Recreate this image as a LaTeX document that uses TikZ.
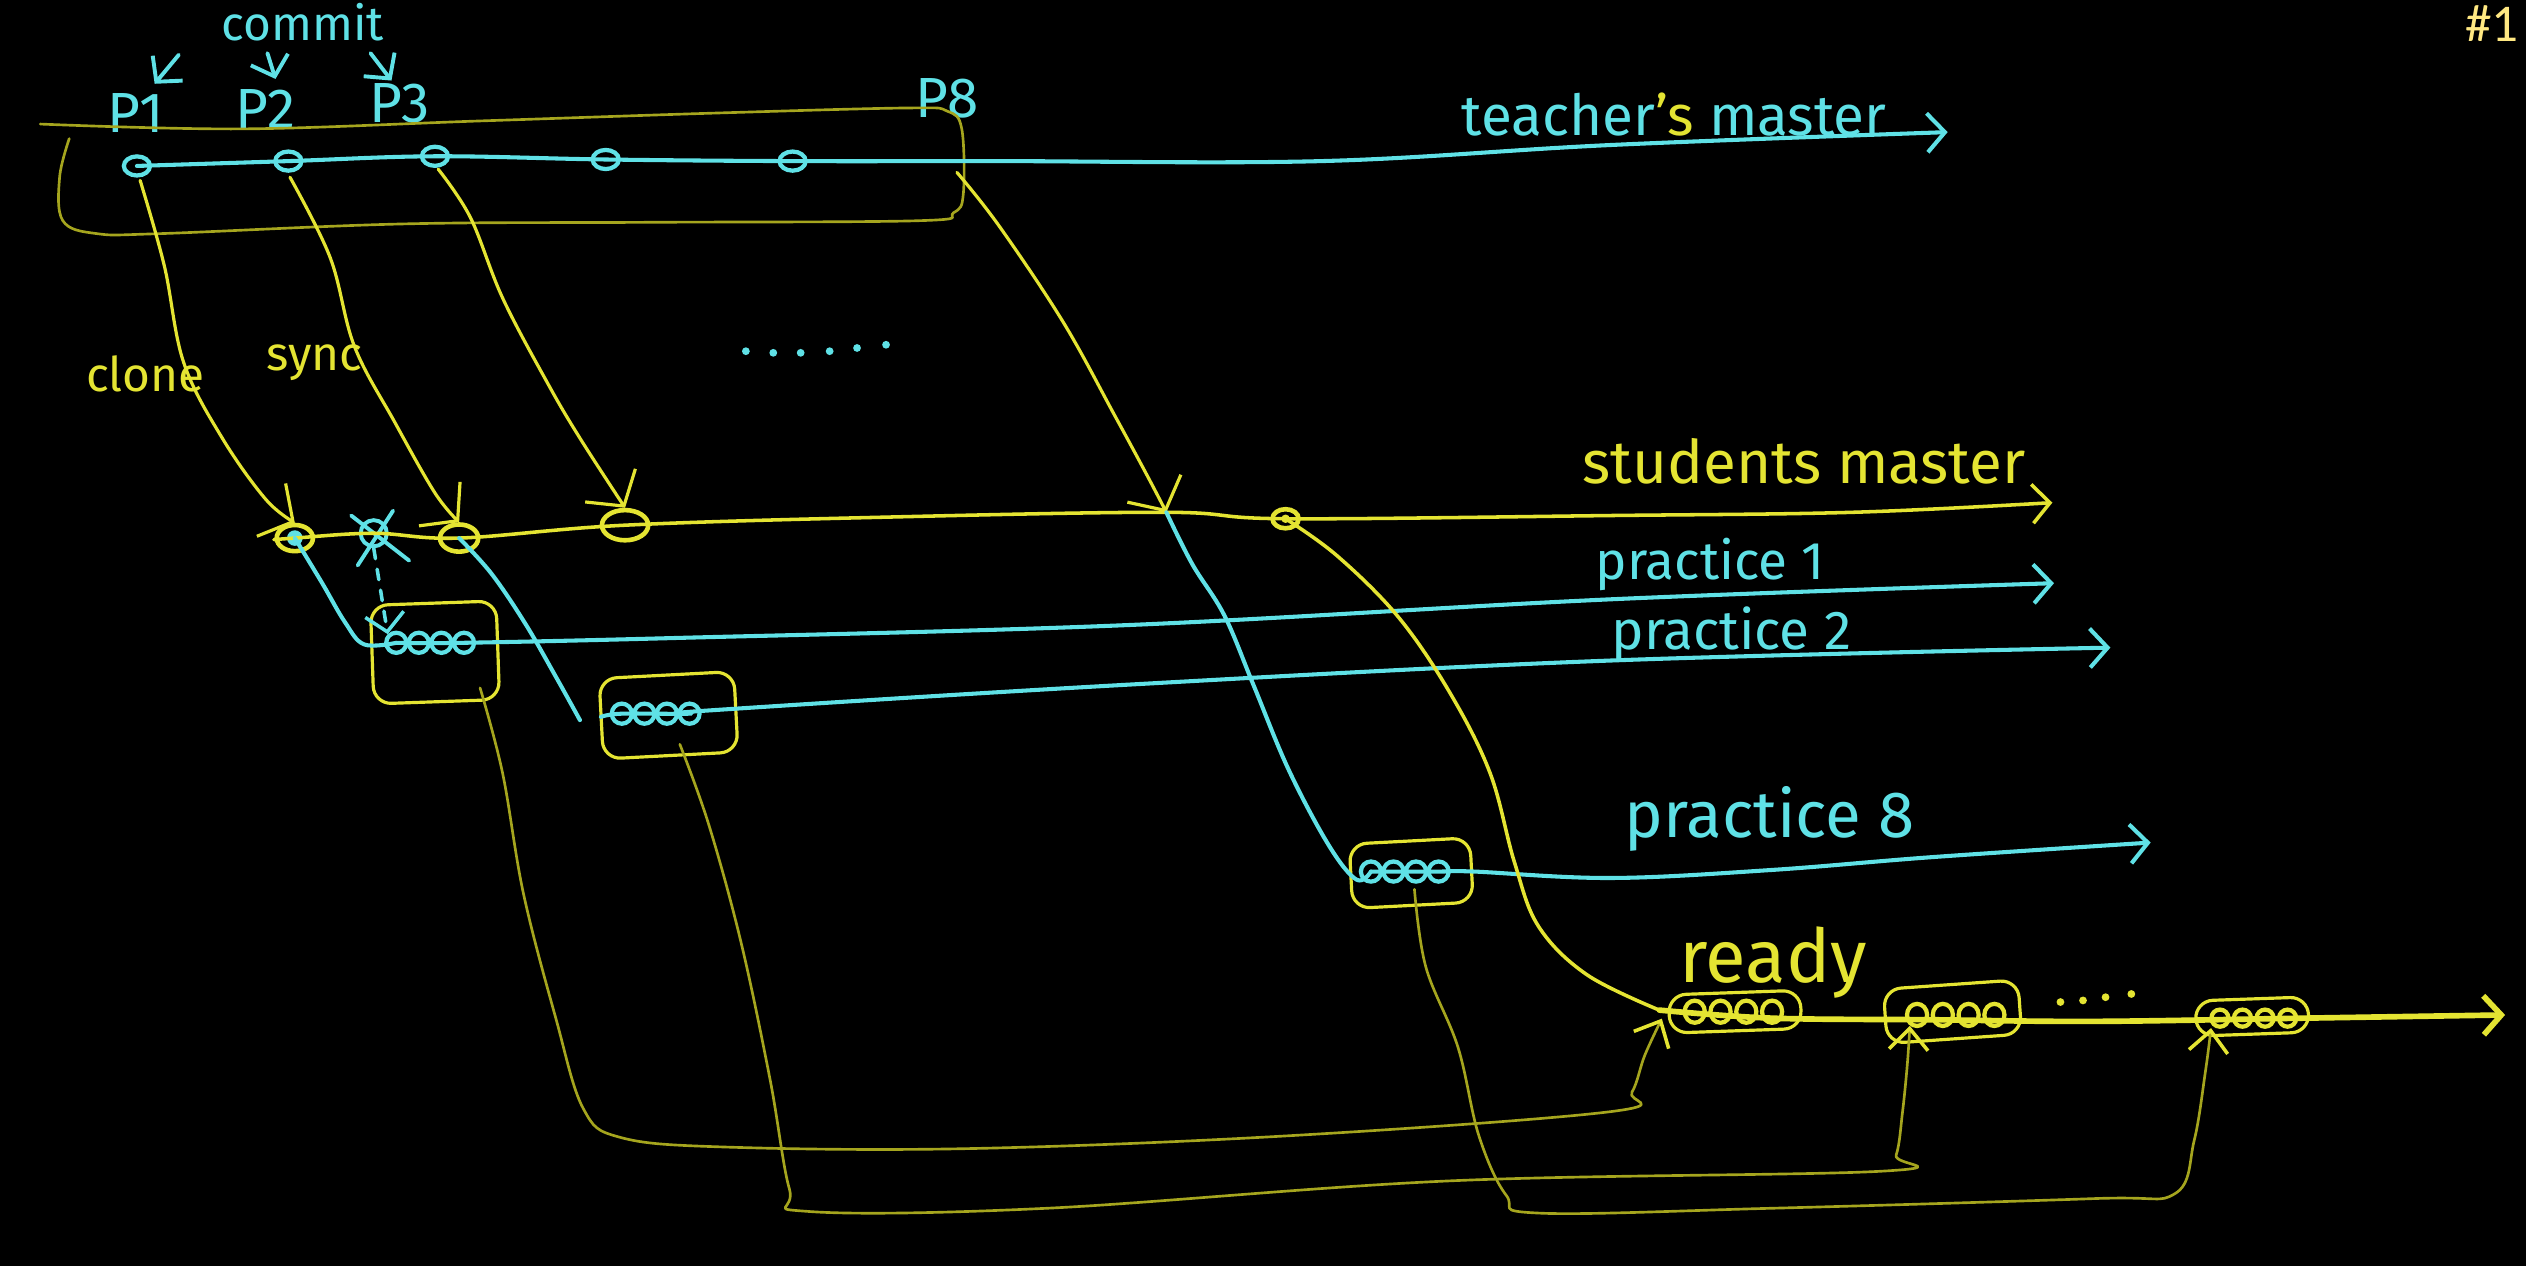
\documentclass[tikz,border=0pt]{standalone}
\usepackage{fontspec}
\setmainfont{Fira Sans}
\newfontfamily\tagfont{Carlito}
\usetikzlibrary{arrows.meta,shapes.geometric,calc}
\definecolor{cy}{RGB}{95,225,230}
\definecolor{ye}{RGB}{228,228,50}
\definecolor{ol}{RGB}{165,165,30}
\definecolor{tagc}{RGB}{255,232,130}
\begin{document}
\begin{tikzpicture}[x=0.016cm,y=-0.016cm,
  cyl/.style={draw=cy,line width=1.15pt,line cap=round,line join=round},
  yel/.style={draw=ye,line width=1pt,line cap=round,line join=round},
  oll/.style={draw=ol,line width=0.75pt,line cap=round,line join=round},
  barb/.style={-{Straight Barb[length=5pt,width=11pt]}},
  bigbarb/.style={-{Straight Barb[length=7pt,width=17pt]}},
  upbarb/.style={-{Straight Barb[length=6pt,width=11pt,color=ye,line width=1pt]}},
  cmt/.style={ellipse,draw=cy,line width=1.2pt,minimum width=0.26cm,minimum height=0.19cm,inner sep=0pt},
  gc/.style={ellipse,draw=cy,line width=1.2pt,minimum width=0.2cm,minimum height=0.2cm,inner sep=0pt},
  gy/.style={ellipse,draw=ye,line width=1.2pt,minimum width=0.2cm,minimum height=0.22cm,inner sep=0pt},
  sbox/.style={draw=ye,line width=0.9pt,rounded corners=5pt,inner sep=0pt},
  txt/.style={inner sep=0pt,anchor=base west},
  smooth/.append style={tension=0.6}
]
\fill[black] (0,0) rectangle (1568,786);
\useasboundingbox (0,0) rectangle (1568,786);

% ---------- top labels ----------
\node[txt,text=cy,font=\fontsize{13.5}{16}\selectfont] (commitl) at (137,25) {commit};
\node[txt,text=cy,font=\fontsize{16}{19}\selectfont] (P1) at (66,82) {P1};
\node[txt,text=cy,font=\fontsize{16}{19}\selectfont] (P2) at (146,80) {P2};
\node[txt,text=cy,font=\fontsize{16}{19}\selectfont] (P3) at (229,76) {P3};
\node[txt,text=cy,font=\fontsize{16}{19}\selectfont] (P8) at (568,73) {P8};
\node[txt,text=cy,font=\fontsize{16}{19}\selectfont] (tml) at (907,84) {teacher{\color{ye}'s} master};
\node[inner sep=0pt,anchor=base east,text=tagc,font=\tagfont\fontsize{15}{18}\selectfont] (tag) at (1564,26) {\#1};

% small commit arrows
\coordinate (a1s) at (111,34); \coordinate (a1e) at (96,52);
\coordinate (a2s) at (166,33); \coordinate (a2e) at (171,49);
\coordinate (a3s) at (230,33); \coordinate (a3e) at (243,50);
\draw[cyl,line width=1.1pt,barb] (a1s) -- (a1e);
\draw[cyl,line width=1.1pt,barb] (a2s) -- (a2e);
\draw[cyl,line width=1.1pt,barb] (a3s) -- (a3e);

% bracket around the teacher's commits
\draw[oll] plot[smooth] coordinates {(25,77) (150,80) (300,75) (450,70) (565,67) (588,69) (597,80) (598,120) (592,132) (570,137) (400,138) (250,139) (100,145) (60,145) (39,137) (37,110) (43,86)};

% teacher's master
\node[cmt] (t1) at (85,103) {};
\node[cmt] (t2) at (179,100) {};
\node[cmt] (t3) at (270,97) {};
\node[cmt] (t4) at (376,99) {};
\node[cmt] (t5) at (492,100) {};
\coordinate (tend) at (1209,82);
\draw[cyl,barb] plot[smooth] coordinates {(t1) (t2) (t3) (t4) (t5) (620,100) (820,100) (1000,90) (tend)};

% ---------- clone / sync ----------
\node[txt,text=ye,font=\fontsize{13.5}{16}\selectfont] (clonel) at (53,243) {clone};
\node[txt,text=ye,font=\fontsize{13.5}{16}\selectfont] (syncl) at (165,230) {sync};
\foreach \i/\x/\y in {1/463/218,2/480/219,3/497/219,4/515/218,5/532/216,6/550/214}
  \fill[cy] (\x,\y) circle (1.1pt) coordinate (dot\i);

% ---------- student's master ----------
\node[ellipse,draw=ye,line width=1.3pt,minimum width=0.36cm,minimum height=0.26cm,inner sep=0pt] (s1) at (183,334) {};
\fill[cy] (s1.center) circle (2.2pt);
\node[circle,draw=cy,line width=1.1pt,minimum size=0.26cm,inner sep=0pt] (s2) at (232,331) {};
\draw[cyl,line width=1.1pt] ($(s2)+(-14,-11)$) -- ($(s2)+(22,17)$);
\draw[cyl,line width=1.1pt] ($(s2)+(12,-14)$) -- ($(s2)+(-10,20)$);
\node[ellipse,draw=ye,line width=1.3pt,minimum width=0.38cm,minimum height=0.27cm,inner sep=0pt] (s3) at (285,334) {};
\node[ellipse,draw=ye,line width=1.3pt,minimum width=0.46cm,minimum height=0.3cm,inner sep=0pt] (s4) at (388,326) {};
\coordinate (s5) at (724,318);
\node[ellipse,draw=ye,line width=1.3pt,minimum width=0.26cm,minimum height=0.19cm,inner sep=0pt] (s6) at (798,322) {};
\fill[ye] (s6.center) circle (1.2pt);
\coordinate (sstart) at (170,335);
\coordinate (send) at (1274,312);
\draw[yel,barb] plot[smooth] coordinates {(sstart) (s1) (s2) (s3) (s4) (550,321) (s5) (s6) (1000,320) (1150,318) (send)};
\node[txt,text=ye,font=\fontsize{17}{20}\selectfont] (sml) at (982,300) {students master};

% clone / sync arrows
\draw[yel,line width=0.9pt,bigbarb] plot[smooth] coordinates {(87,112) (102,165) (114,225) (138,272) (165,310) (s1.north)};
\draw[yel,line width=0.9pt,bigbarb] plot[smooth] coordinates {(180,110) (205,160) (220,215) (245,262) (270,306) (s3.north)};
\draw[yel,line width=0.9pt,bigbarb] plot[smooth] coordinates {(272,105) (292,135) (312,185) (340,238) (360,272) (s4.north)};
\draw[yel,line width=0.9pt,bigbarb] plot[smooth] coordinates {(594,107) (620,140) (660,200) (692,258) (712,295) (s5)};

% ---------- practice 1 ----------
\node[sbox,minimum width=1.25cm,minimum height=0.98cm,rotate=2] (b1) at (270,405) {};
\foreach \i in {0,...,3} \node[gc] (g1\i) at ({246+\i*14},399) {};
\coordinate (p1end) at (1275,362);
\draw[cyl] plot[smooth] coordinates {(s1) (200,362) (214,386) (226,400) (g10)};
\draw[cyl,barb] plot[smooth] coordinates {(g10) (g13) (420,396) (700,388) (1000,372) (p1end)};
\draw[cyl,line width=1pt,dashed,barb] (s2.south) -- (g10.north west);
\node[txt,text=cy,font=\fontsize{15}{18}\selectfont] (p1l) at (990,360) {practice 1};

% ---------- practice 2 ----------
\node[sbox,minimum width=1.34cm,minimum height=0.8cm,rotate=3] (b2) at (415,444) {};
\foreach \i in {0,...,3} \node[gc] (g2\i) at ({386+\i*14},443) {};
\coordinate (p2cut) at (360,447);
\coordinate (p2start) at (373,445);
\coordinate (p2end) at (1310,402);
\draw[cyl] plot[smooth] coordinates {(s3) (305,356) (326,387) (345,420) (p2cut)};
\draw[cyl,barb] plot[smooth] coordinates {(p2start) (g20) (g23) (440,441) (700,425) (1000,410) (p2end)};
\node[txt,text=cy,font=\fontsize{15.5}{18}\selectfont] (p2l) at (1000,403) {practice 2};

% ---------- practice 8 ----------
\node[sbox,minimum width=1.2cm,minimum height=0.64cm,rotate=3] (b3) at (876,542) {};
\foreach \i in {0,...,3} \node[gc] (g3\i) at ({851+\i*14},541) {};
\coordinate (p8end) at (1335,523);
\draw[cyl] plot[smooth] coordinates {(s5) (740,350) (760,382) (778,425) (800,478) (825,525) (842,546) (g30)};
\draw[cyl,barb] plot[smooth] coordinates {(g30) (g33) (915,541) (1000,545) (1100,540) (1200,532) (p8end)};
\node[txt,text=cy,font=\fontsize{18.5}{22}\selectfont] (p8l) at (1008,520) {practice 8};

% ---------- ready ----------
\node[sbox,minimum width=1.31cm,minimum height=0.38cm,rotate=2] (r1) at (1077,628) {};
\node[sbox,minimum width=1.34cm,minimum height=0.54cm,rotate=4] (r2) at (1212,628) {};
\node[sbox,minimum width=1.12cm,minimum height=0.35cm,rotate=2] (r3) at (1398,631) {};
\foreach \i in {0,...,3} \node[gy] (y1\i) at ({1052+\i*16},628) {};
\foreach \i in {0,...,3} \node[gy] (y2\i) at ({1190+\i*16},630) {};
\foreach \i in {0,...,3} \node[gy,minimum width=0.17cm,minimum height=0.17cm] (y3\i) at ({1378+\i*14},632) {};
\foreach \i/\x/\y in {1/1279/622,2/1293/621,3/1307/619,4/1323/617}
  \fill[ye] (\x,\y) circle (1.1pt) coordinate (ydot\i);
\coordinate (rstart) at (1030,627);
\coordinate (rend) at (1555,630);
\draw[yel] plot[smooth] coordinates {(s6) (830,345) (868,383) (900,430) (925,480) (940,535) (955,575) (985,605) (rstart)};
\draw[yel,line width=1.6pt,barb] plot[smooth] coordinates {(rstart) (1100,632) (1200,633) (1300,634) (1430,632) (rend)};
\node[txt,text=ye,font=\fontsize{21}{25}\selectfont] (readyl) at (1042,610) {ready};

% ---------- merge connectors ----------
\coordinate (c1s) at (298,427);
\coordinate (c2s) at (422,462);
\coordinate (c3s) at (878,552);
\draw[oll,upbarb] plot[smooth] coordinates {(c1s) (312,480) (325,555) (345,632) (362,688) (385,706) (450,712) (600,713) (800,705) (1000,690) (1013,678) (1021,655) ($(r1.south west)+(-4,-10)$)};
\draw[oll,upbarb] plot[smooth] coordinates {(c2s) (440,512) (460,585) (478,670) (490,738) (502,752) (650,750) (900,733) (1168,727) (1177,717) (1181,690) (1184,660) ($(r2.south west)+(15,-12)$)};
\draw[oll,upbarb] plot[smooth] coordinates {(c3s) (885,600) (905,650) (918,705) (935,742) (955,753) (1100,750) (1300,744) (1350,741) (1362,708) (1369,665) ($(r3.south west)+(10,-6)$)};
\end{tikzpicture}
\end{document}
